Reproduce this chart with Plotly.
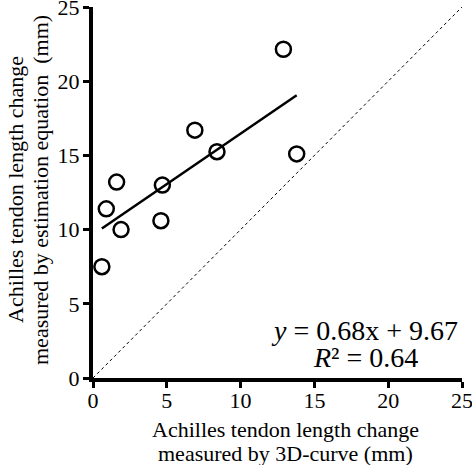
import plotly.graph_objects as go

# Data
x_3d = [0.6, 0.9, 1.6, 1.9, 4.6, 4.7, 6.9, 8.4, 12.9, 13.8]
y_est = [7.5, 11.4, 13.2, 10.0, 10.6, 13.0, 16.7, 15.25, 22.15, 15.1]
slope = 0.68
intercept = 9.67
r2 = 0.64
identity = [0, 25]
tick_vals = [0, 5, 10, 15, 20, 25]
x_title_lines = ["Achilles tendon length change", "measured by 3D-curve (mm)"]
y_title_lines = ["Achilles tendon length change", "measured by estimation equation\u00a0 (mm)"]

FONT = "Liberation Serif"
W, H = 472, 465
ML, MR, MT, MB = 93, 10, 7, 87
PW, PH = W - ML - MR, H - MT - MB

def px(xp):  # pixel -> paper x
    return (xp - ML) / PW

def py(yp):  # pixel -> paper y
    return (H - MB - yp) / PH

fit_x = [min(x_3d), max(x_3d)]
fit_y = [slope * v + intercept for v in fit_x]

fig = go.Figure()
fig.add_trace(go.Scatter(x=identity, y=identity, mode="lines",
                         line=dict(color="black", width=1, dash="dot"),
                         hoverinfo="skip", showlegend=False, cliponaxis=False))
fig.add_trace(go.Scatter(x=fit_x, y=fit_y, mode="lines",
                         line=dict(color="black", width=2.5),
                         showlegend=False))
fig.add_trace(go.Scatter(x=x_3d, y=y_est, mode="markers",
                         marker=dict(symbol="circle-open", size=15, color="black",
                                     line=dict(width=2.5, color="black")),
                         showlegend=False, cliponaxis=False))

# Regression equation (two lines)
eq_font = dict(family=FONT, size=28, color="black")
fig.add_annotation(x=px(364), y=py(330), xref="paper", yref="paper",
                   text=f"<i>y</i> = {slope:.2f}x + {intercept:.2f}",
                   showarrow=False, xanchor="center", yanchor="middle", font=eq_font)
fig.add_annotation(x=px(365), y=py(357), xref="paper", yref="paper",
                   text=f"<i>R</i>² = {r2:.2f}",
                   showarrow=False, xanchor="center", yanchor="middle", font=eq_font)

# Axis titles (each line as its own text for tight line spacing)
t_font = dict(family=FONT, size=22, color="black")
for i, line in enumerate(x_title_lines):
    fig.add_annotation(x=px(285), y=py(429 + 24 * i), xref="paper", yref="paper",
                       text=line, showarrow=False, xanchor="center", yanchor="middle",
                       font=t_font)
for i, line in enumerate(y_title_lines):
    fig.add_annotation(x=px(15 + 25 * i), y=py(190), xref="paper", yref="paper",
                       text=line, showarrow=False, xanchor="center", yanchor="middle",
                       textangle=-90, font=t_font)

axis_common = dict(range=[0, 25], tickvals=tick_vals, showgrid=False, zeroline=False,
                   showline=True, linewidth=4, linecolor="black",
                   ticks="outside", ticklen=6, tickwidth=3, tickcolor="black",
                   ticklabeloverflow="allow", automargin=False,
                   tickfont=dict(family=FONT, size=22, color="black"))

fig.update_xaxes(**axis_common, ticklabelstandoff=-6)
fig.update_yaxes(**axis_common, ticklabelstandoff=-1)

fig.update_layout(width=W, height=H,
                  margin=dict(l=ML, r=MR, t=MT, b=MB),
                  plot_bgcolor="white", paper_bgcolor="white",
                  font=dict(family=FONT, color="black"))

fig.write_html("out.html", config={"displayModeBar": False},
               post_script="document.body.style.margin='0';document.body.style.padding='0';")
